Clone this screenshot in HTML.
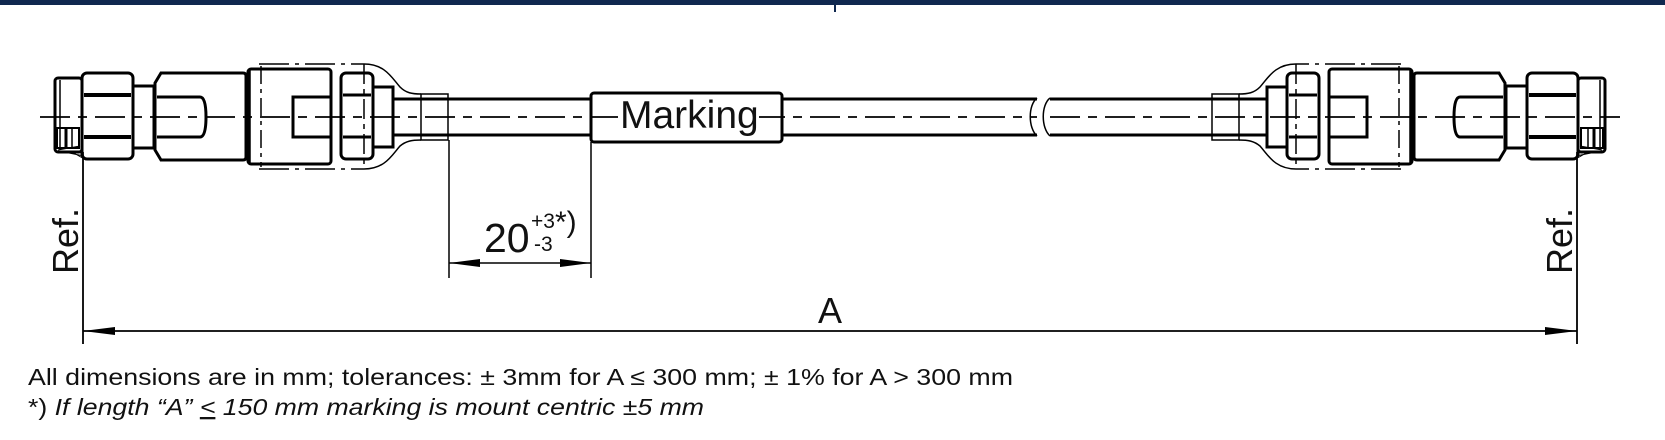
<!DOCTYPE html>
<html><head><meta charset="utf-8"><style>
html,body{margin:0;padding:0;background:#fff;}
svg{display:block;}
text{font-family:"Liberation Sans",sans-serif;fill:#111;}
</style></head><body>
<svg width="1665" height="440" viewBox="0 0 1665 440" xmlns="http://www.w3.org/2000/svg">
<rect x="0" y="0" width="1665" height="5" fill="#10284f"/>
<line x1="835" y1="0" x2="835" y2="12" stroke="#10284f" stroke-width="2"/>

<defs>
<g id="conn" fill="none" stroke="#000">
  <rect x="55" y="78" width="27" height="74" rx="3" stroke-width="3"/>
  <line x1="60" y1="80" x2="60" y2="150" stroke-width="1.5"/>
  <rect x="57" y="128" width="22" height="20" stroke-width="2"/>
  <line x1="66" y1="128" x2="66" y2="148" stroke-width="3"/>
  <line x1="72" y1="128" x2="72" y2="148" stroke-width="1.5"/>
  <path d="M58,150 L80,146 M64,152 L84,156 M72,152 L86,160" stroke-width="1"/>
  <rect x="82" y="73" width="51" height="86" rx="5" stroke-width="3"/>
  <line x1="84" y1="95" x2="131" y2="95" stroke-width="4"/>
  <line x1="84" y1="137" x2="131" y2="137" stroke-width="4"/>
  <rect x="133" y="86" width="21" height="62" stroke-width="3"/>
  <path d="M161,73 L243,73 Q246,73 246,76 L246,157 Q246,160 243,160 L161,160 L155,150 L155,83 Z" stroke-width="3"/>
  <path d="M157,97 L200,97 Q206,97 206,117 Q206,137 200,137 L157,137" stroke-width="3"/>
  <rect x="248" y="69" width="83" height="95" rx="3" stroke-width="3"/>
  <line x1="250" y1="70" x2="250" y2="163" stroke-width="1.5"/>
  <rect x="293" y="97" width="38" height="40" stroke-width="3"/>
  <path d="M259,64 L364,64 M259,169 L364,169" stroke-width="1.5" stroke-dasharray="30,6,4,6"/>
  <line x1="261" y1="66" x2="261" y2="167" stroke-width="1.5" stroke-dasharray="18,5,4,5"/>
  <rect x="341" y="73" width="32" height="86" rx="5" stroke-width="3"/>
  <line x1="343" y1="95" x2="371" y2="95" stroke-width="3"/>
  <line x1="343" y1="137" x2="371" y2="137" stroke-width="3"/>
  <line x1="364" y1="64" x2="364" y2="169" stroke-width="1.5" stroke-dasharray="20,5,5,5"/>
  <rect x="373" y="87" width="20" height="60" stroke-width="3"/>
  <path d="M364,64 C385,64 392,78 400,87 C406,93 412,94 421,94" stroke-width="1.5"/>
  <path d="M364,169 C385,169 392,155 400,146 C406,141 412,140 421,140" stroke-width="1.5"/>
  <line x1="393" y1="99" x2="448" y2="99" stroke-width="3"/>
  <line x1="393" y1="135" x2="448" y2="135" stroke-width="3"/>
  <rect x="421" y="94" width="27" height="46" stroke-width="1.5"/>
  <line x1="83" y1="152" x2="83" y2="344" stroke-width="1.8"/>
</g>
</defs>

<use href="#conn"/>
<use href="#conn" transform="translate(1660,0) scale(-1,1)"/>

<g stroke="#000" stroke-width="1.8" fill="none">
<line x1="40" y1="117" x2="1037" y2="117" stroke-dasharray="30,8,9,8"/>
<line x1="1050" y1="117" x2="1620" y2="117" stroke-dasharray="30,8,9,8"/>
</g>

<g stroke="#000" stroke-width="3" fill="none">
<line x1="448" y1="99" x2="591" y2="99"/>
<line x1="448" y1="135" x2="591" y2="135"/>
<line x1="782" y1="99" x2="1037" y2="99"/>
<line x1="782" y1="135" x2="1037" y2="135"/>
<line x1="1050" y1="99" x2="1212" y2="99"/>
<line x1="1050" y1="135" x2="1212" y2="135"/>
<rect x="591" y="93" width="191" height="49" rx="3"/>
</g>
<g stroke="#000" stroke-width="1.5" fill="none">
<path d="M1037,98 C1028,105 1028,128 1037,136"/>
<path d="M1050,98 C1041,105 1041,128 1050,136"/>
</g>
<rect x="618" y="96" width="141" height="44" fill="#fff"/>
<text x="620" y="128" font-size="39">Marking</text>

<g stroke="#000" stroke-width="1.5">
<line x1="449" y1="140" x2="449" y2="278"/>
<line x1="591" y1="142" x2="591" y2="278"/>
<line x1="449" y1="263" x2="591" y2="263"/>
</g>
<polygon points="449,263 480,259 480,267" fill="#000"/>
<polygon points="591,263 560,259 560,267" fill="#000"/>
<text x="484" y="252" font-size="41">20</text>
<text x="531" y="228" font-size="21">+3</text>
<text x="534" y="251" font-size="21">-3</text>
<text x="555" y="232" font-size="30">*)</text>

<line x1="83" y1="331" x2="1577" y2="331" stroke="#000" stroke-width="1.8"/>
<polygon points="83,331 115,327 115,335" fill="#000"/>
<polygon points="1577,331 1545,327 1545,335" fill="#000"/>
<text x="818" y="323" font-size="36">A</text>

<text transform="translate(78,274) rotate(-90)" font-size="36">Ref.</text>
<text transform="translate(1572,274) rotate(-90)" font-size="36">Ref.</text>

<text x="28" y="385" font-size="23" textLength="985" lengthAdjust="spacingAndGlyphs">All dimensions are in mm; tolerances: ± 3mm for A ≤ 300 mm; ± 1% for A &gt; 300 mm</text>
<text x="28" y="415" font-size="23" textLength="676" lengthAdjust="spacingAndGlyphs">*) <tspan font-style="italic">If length “A” <tspan text-decoration="underline">&lt;</tspan> 150 mm marking is mount centric ±5 mm</tspan></text>
</svg>
</body></html>
